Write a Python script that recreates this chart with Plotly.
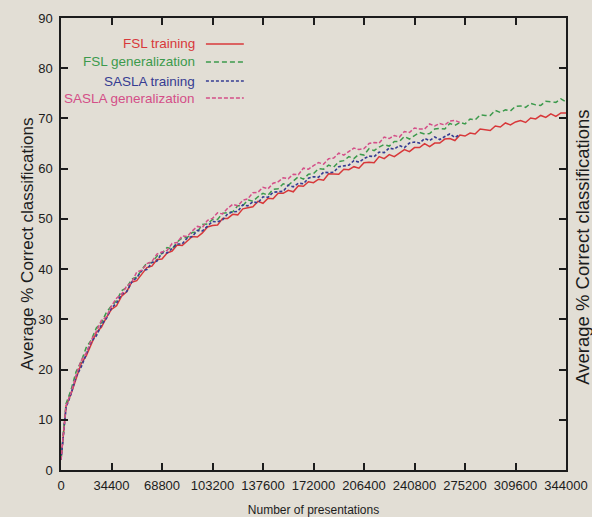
import numpy as np
import plotly.graph_objects as go

STEP = 3440
x_ticks = [0, 34400, 68800, 103200, 137600, 172000, 206400, 240800, 275200, 309600, 344000]
x_ticktext = [str(v) for v in x_ticks]

fsl_training = [2.0, 12.7, 15.2, 18.4, 21.2, 22.7, 25.0, 27.4, 28.4, 30.4,
                32.0, 32.7, 34.6, 35.5, 37.4, 37.7, 39.0, 40.3, 40.6, 41.9,
                42.0, 43.2, 43.6, 44.8, 44.7, 45.7, 46.5, 46.4, 47.2, 48.4,
                48.7, 48.8, 50.1, 50.1, 50.9, 50.8, 52.0, 52.2, 52.4, 53.5,
                53.1, 54.1, 54.0, 55.1, 55.1, 55.7, 55.4, 56.6, 56.5, 57.4,
                57.2, 57.9, 57.7, 59.0, 59.0, 58.9, 59.9, 59.8, 60.4, 60.1,
                61.2, 61.3, 61.2, 62.4, 62.0, 62.8, 62.4, 63.1, 63.8, 63.4,
                64.2, 64.2, 65.0, 64.4, 65.1, 65.1, 65.9, 66.0, 65.6, 66.7,
                66.5, 67.1, 66.9, 67.9, 67.8, 67.6, 68.5, 68.3, 69.1, 68.7,
                69.3, 69.6, 69.2, 70.1, 69.9, 70.6, 70.2, 70.9, 70.4, 71.1,
                71.1]

fsl_generalization = [2.0, 13.2, 16.0, 19.6, 21.6, 24.4, 25.9, 28.3, 29.3, 31.4,
                      32.7, 33.7, 35.7, 36.3, 38.0, 38.4, 39.9, 41.2, 41.3, 42.6,
                      43.1, 44.3, 44.0, 45.4, 46.2, 46.3, 47.3, 47.4, 48.9, 49.0,
                      49.9, 49.9, 51.1, 51.3, 51.4, 52.6, 52.6, 53.8, 53.5, 54.4,
                      55.1, 54.7, 55.9, 56.0, 57.0, 56.7, 57.6, 58.4, 57.9, 58.9,
                      59.0, 60.0, 59.9, 60.7, 60.3, 61.4, 61.6, 62.4, 62.0, 62.9,
                      62.7, 64.0, 63.6, 64.3, 64.8, 64.5, 65.4, 65.4, 66.4, 65.9,
                      66.6, 67.2, 66.9, 67.0, 67.9, 68.0, 67.9, 69.0, 68.6, 69.2,
                      68.9, 69.9, 69.7, 70.7, 70.6, 70.6, 71.6, 71.2, 71.7, 71.5,
                      72.4, 72.5, 72.2, 73.0, 72.7, 72.6, 73.4, 73.3, 73.2, 73.9,
                      73.3]

sasla_training = [2.0, 12.4, 15.2, 18.6, 20.5, 23.2, 25.6, 26.7, 28.9, 30.2,
                  32.3, 33.2, 35.0, 35.5, 37.4, 38.3, 39.7, 39.9, 41.3, 41.6,
                  43.3, 43.2, 44.2, 45.0, 45.0, 46.2, 46.5, 47.7, 47.6, 48.6,
                  49.5, 49.4, 49.8, 51.0, 51.4, 51.5, 52.8, 52.6, 53.4, 53.2,
                  54.4, 54.3, 55.3, 55.4, 55.5, 56.7, 56.4, 57.1, 57.0, 58.1,
                  58.4, 58.3, 59.3, 59.2, 59.3, 60.4, 60.6, 60.7, 61.6, 61.3,
                  62.0, 62.5, 62.4, 63.3, 63.2, 64.1, 63.9, 64.6, 64.2, 65.1,
                  65.3, 65.1, 66.0, 65.6, 66.3, 65.8, 66.4, 66.9, 66.2, 66.8]

sasla_generalization = [2.0, 12.8, 15.4, 18.9, 21.8, 23.3, 25.9, 27.6, 29.8, 30.5,
                        32.7, 34.2, 35.0, 36.6, 37.4, 39.4, 39.8, 41.1, 41.5, 43.0,
                        43.4, 43.7, 45.1, 45.3, 46.6, 46.5, 47.6, 48.5, 48.3, 49.7,
                        50.1, 51.2, 51.0, 52.1, 52.9, 52.6, 53.7, 54.0, 55.2, 55.3,
                        56.3, 56.0, 57.1, 57.4, 58.2, 58.0, 58.9, 58.8, 60.1, 59.9,
                        60.6, 61.2, 60.9, 62.0, 62.1, 63.1, 62.7, 63.4, 64.1, 63.8,
                        64.0, 65.0, 65.2, 65.1, 66.3, 66.0, 66.6, 66.3, 67.4, 67.2,
                        68.1, 67.9, 67.9, 68.9, 68.5, 69.0, 68.7, 69.5, 69.6, 69.2]

series = [
    ("FSL training", fsl_training, "#d8383a", "solid", 1.5),
    ("FSL generalization", fsl_generalization, "#3c9a4c", "5px,3px", 1.5),
    ("SASLA training", sasla_training, "#363c92", "3px,2px", 1.6),
    ("SASLA generalization", sasla_generalization, "#d44f88", "4px,2px", 1.5),
]

FONT = "Liberation Sans, Arial, sans-serif"
INK = "#1c1c1c"
BG = "#e2ded5"

fig = go.Figure()
for name, vals, col, dash, w in series:
    xs = np.arange(len(vals)) * STEP
    fig.add_trace(go.Scatter(x=xs, y=vals, mode="lines", name=name,
                             line=dict(color=col, dash=dash, width=w),
                             showlegend=False, hoverinfo="skip"))

# legend (text right-aligned, sample line to the right), as in the original
leg_y = [0.9425, 0.9027, 0.8606, 0.823]
for (name, vals, col, dash, w), yy in zip(series, leg_y):
    fig.add_annotation(xref="paper", yref="paper", x=0.2693, y=yy, text=name,
                       showarrow=False, xanchor="right", yanchor="middle",
                       font=dict(family=FONT, size=13.5, color=col))
    fig.add_shape(type="line", xref="paper", yref="paper", x0=0.287, x1=0.362,
                  y0=yy, y1=yy, line=dict(color=col, dash=dash, width=1.3))

# duplicate y title at the right edge (from the scanned page)
fig.add_annotation(xref="paper", yref="paper", x=1.0327, y=0.493,
                   text="Average % Correct classifications", textangle=-90,
                   showarrow=False, xanchor="center", yanchor="middle",
                   font=dict(family=FONT, size=18.5, color=INK))

axis_common = dict(showline=True, linecolor=INK, linewidth=1.5, mirror="ticks",
                   ticks="inside", ticklen=7, tickwidth=1.5, tickcolor=INK,
                   showgrid=False, zeroline=False, tickangle=0,
                   tickfont=dict(family=FONT, size=13, color=INK))

fig.update_xaxes(range=[0, 344000], tickvals=x_ticks, ticktext=x_ticktext,
                 automargin=False, ticklabelstandoff=3,
                 title=dict(text="Number of presentations", standoff=13,
                            font=dict(family=FONT, size=12, color=INK)),
                 **axis_common)
fig.update_yaxes(range=[0, 90], dtick=10, tick0=0, automargin=False,
                 ticklabelstandoff=4,
                 title=dict(text="Average % Correct classifications", standoff=0,
                            font=dict(family=FONT, size=17, color=INK)),
                 **axis_common)

fig.update_layout(width=592, height=517, autosize=False,
                  margin=dict(l=61, r=26, t=18, b=47),
                  paper_bgcolor=BG, plot_bgcolor=BG)

fig.write_html("out.html")
